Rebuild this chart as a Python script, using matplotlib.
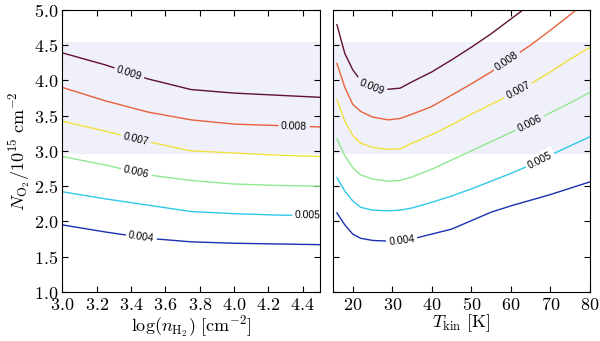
import numpy as np
import matplotlib
matplotlib.use("Agg")
import matplotlib.pyplot as plt
from matplotlib.ticker import MultipleLocator, FormatStrFormatter

plt.rcParams['mathtext.fontset'] = 'cm'
plt.rcParams['font.family'] = 'serif'
plt.rcParams['font.serif'] = ['DejaVu Serif']

# =========================
# DATA
# =========================
levels = ["0.004", "0.005", "0.006", "0.007", "0.008", "0.009"]
colors = ["#1a30b0", "#30c8e8", "#90e890", "#f0e040", "#e8603a", "#601030"]

# left panel: log(n_H2)
logn = [3.0, 3.25, 3.5, 3.75, 4.0, 4.25, 4.5]
left_lines = [
    [1.95, 1.85, 1.76, 1.71, 1.69, 1.68, 1.67],   # 0.004
    [2.42, 2.32, 2.23, 2.14, 2.11, 2.09, 2.08],   # 0.005
    [2.92, 2.80, 2.66, 2.58, 2.53, 2.51, 2.50],   # 0.006
    [3.42, 3.28, 3.13, 3.00, 2.97, 2.94, 2.92],   # 0.007
    [3.90, 3.71, 3.55, 3.44, 3.38, 3.36, 3.34],   # 0.008
    [4.39, 4.22, 4.02, 3.87, 3.82, 3.79, 3.76],   # 0.009
]
left_label_x = [3.46, 4.43, 3.43, 3.43, 4.35, 3.39]

# right panel: T_kin
tkin = [16, 18, 20, 22, 25, 29, 32, 35, 40, 45, 50, 55, 60, 65, 70, 75, 80]
right_lines = [
    [2.12, 1.95, 1.82, 1.76, 1.73, 1.72, 1.72, 1.75, 1.82, 1.89, 2.01, 2.13, 2.22, 2.30, 2.38, 2.47, 2.56],
    [2.62, 2.43, 2.29, 2.20, 2.16, 2.15, 2.16, 2.19, 2.27, 2.36, 2.46, 2.57, 2.68, 2.80, 2.94, 3.07, 3.20],
    [3.17, 2.93, 2.76, 2.66, 2.60, 2.57, 2.58, 2.63, 2.74, 2.87, 3.00, 3.13, 3.26, 3.40, 3.54, 3.68, 3.83],
    [3.72, 3.42, 3.22, 3.11, 3.05, 3.02, 3.03, 3.11, 3.23, 3.37, 3.52, 3.66, 3.80, 3.95, 4.12, 4.30, 4.47],
    [4.24, 3.90, 3.66, 3.56, 3.48, 3.44, 3.46, 3.52, 3.63, 3.79, 3.95, 4.12, 4.31, 4.50, 4.71, 4.93, 5.15],
    [4.79, 4.38, 4.15, 4.00, 3.90, 3.875, 3.89, 3.98, 4.12, 4.29, 4.47, 4.66, 4.87, 5.08, 5.30, 5.52, 5.75],
]
right_label_x = [32.4, 67.4, 64.8, 61.9, 59.0, 24.7]

band = (2.95, 4.55)
band_color = "#f0f0fa"

# =========================
# FIGURE
# =========================
fig = plt.figure(figsize=(6.0, 3.41), dpi=100)
ax1 = fig.add_axes([0.104, 0.144, 0.429, 0.827])
ax2 = fig.add_axes([0.555, 0.144, 0.428, 0.827])


def label_line(ax, xs, ys, xl, text, color):
    yl = np.interp(xl, xs, ys)
    dx = (ax.get_xlim()[1] - ax.get_xlim()[0]) * 0.02
    p1 = ax.transData.transform((xl - dx, np.interp(xl - dx, xs, ys)))
    p2 = ax.transData.transform((xl + dx, np.interp(xl + dx, xs, ys)))
    ang = np.degrees(np.arctan2(p2[1] - p1[1], p2[0] - p1[0]))
    bg = band_color if band[0] < yl < band[1] else "white"
    ax.text(xl, yl, text, fontsize=7.5, family="Liberation Sans",
            rotation=ang, rotation_mode="anchor", ha="center", va="center",
            bbox=dict(boxstyle="square,pad=0.25", fc=bg, ec="none"),
            clip_on=True, zorder=3)


for ax, xs, lines, lab_x, xlim in [(ax1, logn, left_lines, left_label_x, (3.0, 4.5)),
                                   (ax2, tkin, right_lines, right_label_x, (15, 80))]:
    ax.set_xlim(*xlim)
    ax.set_ylim(1.0, 5.0)
    ax.axhspan(band[0], band[1], color=band_color, lw=0, zorder=0)
    for ys, c in zip(lines, colors):
        ax.plot(xs, ys, color=c, lw=1.0, zorder=2)
    for ys, xl, t, c in zip(lines, lab_x, levels, colors):
        label_line(ax, xs, ys, xl, t, c)
    ax.yaxis.set_major_locator(MultipleLocator(0.5))
    ax.tick_params(direction="in", top=True, right=True, length=4, width=0.8,
                   labelsize=13, pad=3)

ax1.xaxis.set_major_locator(MultipleLocator(0.2))
ax1.xaxis.set_major_formatter(FormatStrFormatter(r"$%.1f$"))
ax1.yaxis.set_major_formatter(FormatStrFormatter(r"$%.1f$"))
ax2.xaxis.set_major_locator(MultipleLocator(10))
ax2.xaxis.set_major_formatter(FormatStrFormatter(r"$%d$"))
ax2.tick_params(labelleft=False)

ax1.set_xlabel(r"$\log(n_{\rm H_2})\ [{\rm cm^{-2}}]$", fontsize=13, labelpad=-1)
ax1.set_ylabel(r"$N_{\rm O_2}/10^{15}\ {\rm cm^{-2}}$", fontsize=13, labelpad=1)
ax2.set_xlabel(r"$T_{\rm kin}\ [{\rm K}]$", fontsize=13, labelpad=-1)

fig.savefig("out.png", dpi=100)
